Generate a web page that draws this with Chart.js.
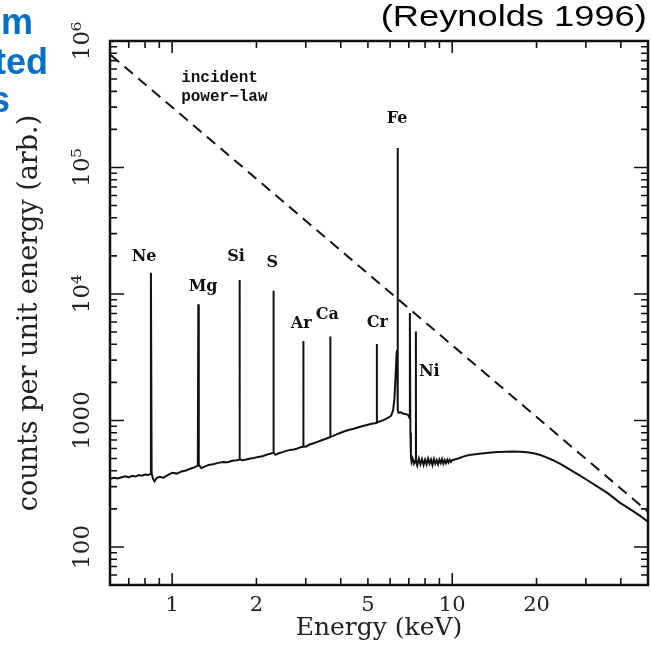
<!DOCTYPE html>
<html>
<head>
<meta charset="utf-8">
<script src="https://cdn.jsdelivr.net/npm/chart.js@4.4.1/dist/chart.umd.min.js"></script>
<style>
   body { margin: 0; background: #fff; }
   #caja { position: relative; width: 651px; height: 666px; overflow: hidden; background: #fff; }
   #myChart { position: absolute; left: 0; top: 0; }
   .azul { position: absolute; font-family: "Liberation Sans", Arial, sans-serif; font-weight: bold;
           font-size: 36px; line-height: 1; color: #0b6fc1; white-space: nowrap; }
   #cita { position: absolute; right: 4px; top: 2px; font-family: "Liberation Sans", Arial, sans-serif;
           font-size: 29px; line-height: 1; color: #000; transform: scaleX(1.25); transform-origin: right top; white-space: nowrap; }
</style>
</head>
<body>
<div id="caja">
   <canvas id="myChart" width="651" height="666"></canvas>
   <div class="azul" style="right:618px; top:4px;">m</div>
   <div class="azul" style="right:603px; top:44px;">ted</div>
   <div class="azul" style="right:641px; top:82px;">s</div>
   <div id="cita">(Reynolds 1996)</div>
</div>
<script>
//Datos del espectro (energia en keV, cuentas)

const specEnergy = [
   0.60, 0.62, 0.64, 0.66, 0.68, 0.70, 0.72, 0.74, 0.76, 0.78, 0.80, 0.82, 0.835, 0.840, 0.845, 0.855, 0.865,
   0.88, 0.90, 0.93, 0.96, 1.00, 1.04, 1.08, 1.12, 1.16, 1.20, 1.235, 1.240, 1.245, 1.27, 1.30, 1.35, 1.40,
   1.46, 1.52, 1.58, 1.64, 1.70, 1.735, 1.740, 1.745, 1.78, 1.84, 1.90, 1.96, 2.03, 2.10, 2.17, 2.24, 2.295,
   2.300, 2.305, 2.34, 2.40, 2.48, 2.56, 2.64, 2.72, 2.80, 2.88, 2.935, 2.940, 2.945, 3.00, 3.10, 3.20, 3.32,
   3.44, 3.56, 3.665, 3.670, 3.675, 3.76, 3.88, 4.00, 4.15, 4.30, 4.45, 4.60, 4.80, 5.00, 5.15, 5.30, 5.375,
   5.380, 5.385, 5.50, 5.65, 5.80, 5.95, 6.05, 6.15, 6.22, 6.28, 6.33, 6.36, 6.38, 6.40, 6.43, 6.55, 6.70,
   6.85, 6.97, 7.03, 7.06, 7.09, 7.12, 7.16, 7.22, 7.30, 7.38, 7.415, 7.420, 7.425, 7.50, 7.60, 7.70, 7.80,
   7.90, 8.00, 8.10, 8.20, 8.30, 8.40, 8.50, 8.60, 8.70, 8.80, 8.90, 9.00, 9.10, 9.20, 9.30, 9.40, 9.50, 9.60,
   9.70, 9.80, 9.90, 10.0, 10.5, 11.0, 11.5, 12.5, 13.5, 14.5, 15.5, 16.5, 17.5, 18.5, 19.5, 20.5, 21.5, 22.8,
   24.5, 26.5, 28.5, 30.5, 33, 36, 39.5, 43, 47, 50
];

const specCounts = [
   345, 352, 348, 356, 362, 355, 365, 360, 370, 366, 374, 370, 378, 14700, 380, 345, 330,
   350, 358, 352, 368, 385, 380, 395, 402, 415, 425, 440, 8300, 445, 420, 430, 445, 450,
   462, 470, 468, 480, 485, 490, 12900, 495, 485, 492, 500, 505, 515, 520, 535, 545, 555,
   10600, 560, 535, 550, 562, 575, 585, 590, 600, 615, 620, 4250, 625, 620, 645, 660, 680,
   700, 720, 740, 4600, 745, 755, 780, 800, 825, 845, 860, 880, 905, 925, 940, 950, 960,
   4030, 965, 980, 1000, 1030, 1060, 1090, 1200, 1500, 2300, 3400, 3600, 142600, 1200, 1150, 1160, 1130,
   1120, 1100, 1050, 7070, 800, 520, 470, 500, 455, 480, 470, 5050, 475, 440, 500, 450, 495,
   445, 490, 450, 500, 455, 490, 445, 495, 455, 485, 450, 490, 460, 495, 455, 485, 460, 490,
   465, 488, 470, 485, 500, 520, 533, 545, 555, 562, 566, 568, 566, 560, 550, 535, 515, 487,
   450, 405, 368, 335, 300, 265, 225, 200, 175, 158
];

//Ley de potencias incidente (recta en log-log)
const powerEnergy = [0.604, 50];
const powerCounts = [774000, 190];

//Lineas de emision
const lineNames  = ['Ne', 'Mg', 'Si', 'S', 'Ar', 'Ca', 'Cr', 'Fe', 'Ni'];
const lineLabelE = [0.794, 1.29, 1.69, 2.28, 2.89, 3.58, 5.40, 6.36, 8.28];
const lineLabelC = [19600, 11350, 19600, 17600, 5800, 6820, 5900, 241000, 2415];

const noteText = ['incident', 'power\u2212law'];
const noteE = [1.077, 1.077];
const noteC = [511000, 360000];

//Ejes
const xTickValues = [1, 2, 5, 10, 20];
const xTickLabels = ['1', '2', '5', '10', '20'];
const yTickValues = [100, 1000, 1e4, 1e5, 1e6];
const yTickLabels = ['100', '1000', '10\u2074', '10\u2075', '10\u2076'];

function buscar(lista, v) {
   for (let i = 0; i < lista.length; i++) {
      if (Math.abs(v - lista[i]) / lista[i] < 1e-6) return i;
   }
   return -1;
}

function esEntero(v) {
   const s = v / Math.pow(10, Math.floor(Math.log10(v) + 1e-9));
   return Math.abs(s - Math.round(s)) < 1e-6;
}

function esDecada(v) {
   const l = Math.log10(v);
   return Math.abs(l - Math.round(l)) < 1e-6;
}

//Marcas hacia dentro, marco y textos
const marcas = {
   id: 'marcas',
   afterDatasetsDraw(chart) {
      const ctx = chart.ctx;
      const a = chart.chartArea;
      const sx = chart.scales.x;
      const sy = chart.scales.y;
      ctx.save();
      ctx.strokeStyle = '#111';
      ctx.lineWidth = 1.6;
      ctx.beginPath();
      sx.ticks.forEach(function (t) {
         if (!esEntero(t.value)) return;
         const px = sx.getPixelForValue(t.value);
         if (px < a.left + 1 || px > a.right - 1) return;
         const l = esDecada(t.value) ? 12 : 7;
         ctx.moveTo(px, a.bottom); ctx.lineTo(px, a.bottom - l);
         ctx.moveTo(px, a.top); ctx.lineTo(px, a.top + l);
      });
      sy.ticks.forEach(function (t) {
         if (!esEntero(t.value)) return;
         const py = sy.getPixelForValue(t.value);
         if (py < a.top + 1 || py > a.bottom - 1) return;
         const l = esDecada(t.value) ? 14 : 7;
         ctx.moveTo(a.left, py); ctx.lineTo(a.left + l, py);
         ctx.moveTo(a.right, py); ctx.lineTo(a.right - l, py);
      });
      ctx.stroke();
      ctx.lineWidth = 2.5;
      ctx.strokeRect(a.left, a.top, a.right - a.left, a.bottom - a.top);

      ctx.fillStyle = '#111';
      ctx.font = 'bold 16px "DejaVu Serif"';
      ctx.textAlign = 'center';
      ctx.textBaseline = 'middle';
      for (let i = 0; i < lineNames.length; i++) {
         ctx.fillText(lineNames[i], sx.getPixelForValue(lineLabelE[i]), sy.getPixelForValue(lineLabelC[i]));
      }
      ctx.font = 'bold 16px "Liberation Mono"';
      ctx.textAlign = 'left';
      for (let i = 0; i < noteText.length; i++) {
         ctx.fillText(noteText[i], sx.getPixelForValue(noteE[i]), sy.getPixelForValue(noteC[i]));
      }
      ctx.restore();
   }
};

const puntosEspectro = specEnergy.map(function (e, i) { return { x: e, y: specCounts[i] }; });
const puntosLey = powerEnergy.map(function (e, i) { return { x: e, y: powerCounts[i] }; });

const data = {
   datasets: [{
      label: 'spectrum',
      data: puntosEspectro,
      borderColor: '#111',
      borderWidth: 2,
      pointRadius: 0,
      tension: 0,
      fill: false
   }, {
      label: 'incident power-law',
      data: puntosLey,
      borderColor: '#111',
      borderWidth: 2,
      borderDash: [11, 7],
      pointRadius: 0,
      fill: false
   }]
};

const config = {
   type: 'line',
   data: data,
   options: {
      responsive: false,
      animation: false,
      events: [],
      layout: { padding: { top: 41, right: 3, left: 0, bottom: 0 } },
      plugins: { legend: { display: false }, tooltip: { enabled: false } },
      scales: {
         x: {
            type: 'logarithmic',
            min: 0.6,
            max: 50,
            grid: { display: false },
            border: { display: false },
            ticks: {
               autoSkip: false,
               maxRotation: 0,
               padding: 0,
               color: '#222',
               font: { family: 'DejaVu Serif', size: 21 },
               callback: function (v) {
                  const i = buscar(xTickValues, v);
                  return i >= 0 ? xTickLabels[i] : '';
               }
            },
            title: {
               display: true,
               text: 'Energy (keV)',
               color: '#222',
               font: { family: 'DejaVu Serif', size: 25 },
               padding: { top: 0, bottom: 23 }
            },
            afterFit: function (s) { s.height = 81; }
         },
         y: {
            type: 'logarithmic',
            min: 50,
            max: 1e6,
            grid: { display: false },
            border: { display: false },
            ticks: {
               autoSkip: false,
               minRotation: 90,
               maxRotation: 90,
               crossAlign: 'center',
               padding: -10,
               color: '#222',
               font: { family: 'DejaVu Serif', size: 23 },
               callback: function (v) {
                  const i = buscar(yTickValues, v);
                  return i >= 0 ? yTickLabels[i] : '';
               }
            },
            title: {
               display: true,
               text: 'counts per unit energy (arb.)',
               color: '#222',
               font: { family: 'DejaVu Serif', size: 27 },
               padding: { top: 14, bottom: 0 }
            },
            afterFit: function (s) { s.width = 110; }
         }
      }
   },
   plugins: [marcas]
};

const myChart = new Chart(
   document.getElementById('myChart'),
   config
);
</script>
</body>
</html>
